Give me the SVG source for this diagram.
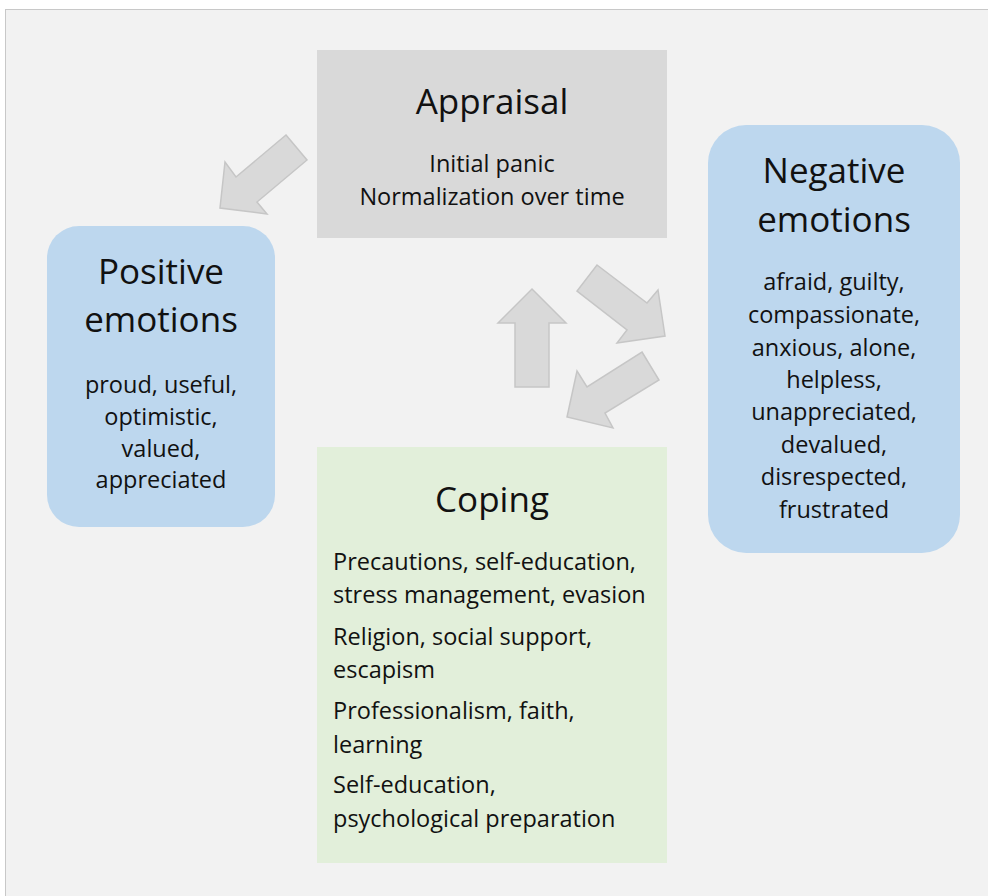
<svg xmlns="http://www.w3.org/2000/svg" width="988" height="896" viewBox="0 0 988 896">
  <style>
    .title { font-family: "Open Sans", "Liberation Sans", sans-serif; font-size: 35px; fill: #111; }
    .body { font-family: "Open Sans", "Liberation Sans", sans-serif; font-size: 23.5px; fill: #111; }
    .mid { text-anchor: middle; }
    .arrow { fill: #d9d9d9; stroke: #c6c6c6; stroke-width: 1.5; stroke-linejoin: miter; }
  </style>

  <!-- page and panel -->
  <rect x="0" y="0" width="988" height="896" fill="#ffffff"/>
  <rect x="5.5" y="9.5" width="990" height="900" fill="#f2f2f2" stroke="#c8c8c8" stroke-width="1"/>

  <!-- block arrows between stages -->
  <g id="connectors">
    <polygon class="arrow" points="286,135 307,160 257,202 267,214 220,208 225,162 236,177"/>
    <polygon class="arrow" points="532,289 566,323 549,323 549,387 515,387 515,323 498,323"/>
    <polygon class="arrow" points="597,265 647,303 658,290 665,336 617,343 627,330 577,291"/>
    <polygon class="arrow" points="642,352 659,380 605,413 613,428 567,417 577,371 587,387"/>
  </g>

  <g id="appraisal">
    <rect x="317" y="50" width="350" height="188" fill="#d9d9d9"/>
    <text class="title mid" x="492" y="114">Appraisal</text>
    <text class="body mid" x="492" y="172">Initial panic</text>
    <text class="body mid" x="492" y="205">Normalization over time</text>
  </g>

  <g id="positive-emotions">
    <rect x="47" y="226" width="228" height="301" rx="32" ry="32" fill="#bdd7ee"/>
    <text class="title mid" x="161" y="284">Positive</text>
    <text class="title mid" x="161" y="332">emotions</text>
    <text class="body mid" x="161" y="393">proud, useful,</text>
    <text class="body mid" x="161" y="425">optimistic,</text>
    <text class="body mid" x="161" y="457">valued,</text>
    <text class="body mid" x="161" y="488">appreciated</text>
  </g>

  <g id="negative-emotions">
    <rect x="708" y="125" width="252" height="428" rx="38" ry="38" fill="#bdd7ee"/>
    <text class="title mid" x="834" y="183">Negative</text>
    <text class="title mid" x="834" y="232">emotions</text>
    <text class="body mid" x="834" y="290">afraid, guilty,</text>
    <text class="body mid" x="834" y="323">compassionate,</text>
    <text class="body mid" x="834" y="356">anxious, alone,</text>
    <text class="body mid" x="834" y="388">helpless,</text>
    <text class="body mid" x="834" y="420">unappreciated,</text>
    <text class="body mid" x="834" y="453">devalued,</text>
    <text class="body mid" x="834" y="485">disrespected,</text>
    <text class="body mid" x="834" y="518">frustrated</text>
  </g>

  <g id="coping">
    <rect x="317" y="447" width="350" height="416" fill="#e2efda"/>
    <text class="title mid" x="492" y="512">Coping</text>
    <text class="body" x="333" y="570">Precautions, self-education,</text>
    <text class="body" x="333" y="603">stress management, evasion</text>
    <text class="body" x="333" y="645">Religion, social support,</text>
    <text class="body" x="333" y="678">escapism</text>
    <text class="body" x="333" y="719">Professionalism, faith,</text>
    <text class="body" x="333" y="753">learning</text>
    <text class="body" x="333" y="793">Self-education,</text>
    <text class="body" x="333" y="827">psychological preparation</text>
  </g>
</svg>
